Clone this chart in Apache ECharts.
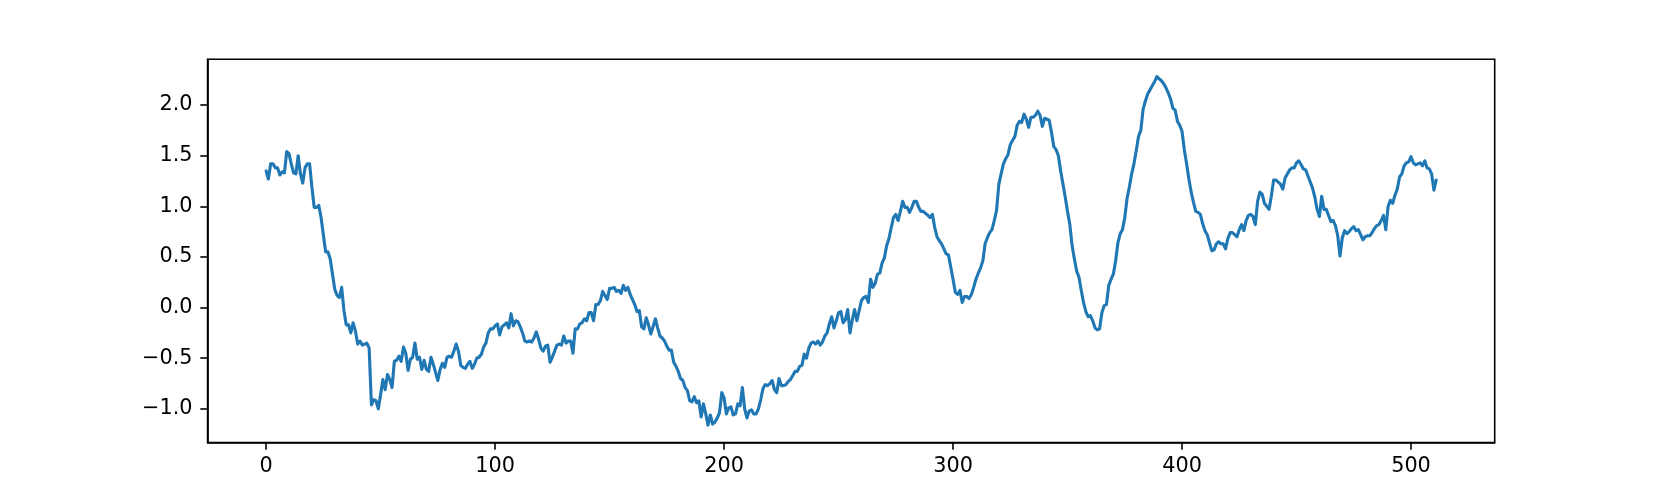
<!DOCTYPE html>
<html>
<head>
<meta charset="utf-8">
<script src="https://cdn.jsdelivr.net/npm/echarts@6/dist/echarts.min.js"></script>
<style>
  html, body { margin: 0; padding: 0; background: #fff; }
  #chart { width: 1661px; height: 498px; }
</style>
</head>
<body>
<div id="chart"></div>
<script>
// 数据
const values = [
  1.35, 1.27, 1.42, 1.42, 1.38, 1.38, 1.31, 1.34, 1.33, 1.54, 1.52, 1.42, 1.33, 1.32, 1.50, 1.32,
  1.23, 1.38, 1.42, 1.42, 1.19, 0.99, 0.99, 1.01, 0.89, 0.72, 0.55, 0.55, 0.48, 0.33, 0.18, 0.12,
  0.10, 0.20, -0.03, -0.17, -0.17, -0.25, -0.15, -0.23, -0.36, -0.33, -0.37, -0.36, -0.35, -0.40, -0.96, -0.91,
  -0.92, -1.00, -0.86, -0.71, -0.81, -0.66, -0.71, -0.79, -0.53, -0.52, -0.48, -0.53, -0.39, -0.45, -0.62, -0.51,
  -0.49, -0.35, -0.51, -0.49, -0.61, -0.52, -0.61, -0.63, -0.49, -0.56, -0.64, -0.72, -0.61, -0.55, -0.59, -0.49,
  -0.48, -0.49, -0.43, -0.36, -0.43, -0.57, -0.59, -0.60, -0.56, -0.53, -0.60, -0.56, -0.50, -0.49, -0.46, -0.39,
  -0.35, -0.25, -0.21, -0.21, -0.18, -0.16, -0.27, -0.19, -0.17, -0.15, -0.20, -0.06, -0.18, -0.13, -0.14, -0.19,
  -0.25, -0.33, -0.34, -0.33, -0.34, -0.30, -0.24, -0.31, -0.40, -0.43, -0.38, -0.37, -0.54, -0.49, -0.43, -0.37,
  -0.36, -0.37, -0.28, -0.35, -0.33, -0.33, -0.45, -0.21, -0.21, -0.16, -0.15, -0.11, -0.13, -0.05, -0.05, -0.13,
  0.03, 0.03, 0.07, 0.16, 0.12, 0.08, 0.19, 0.19, 0.20, 0.16, 0.17, 0.14, 0.22, 0.17, 0.20, 0.13,
  0.08, 0.03, -0.04, -0.03, -0.19, -0.21, -0.10, -0.17, -0.26, -0.19, -0.11, -0.20, -0.28, -0.30, -0.33, -0.38,
  -0.42, -0.42, -0.54, -0.58, -0.63, -0.70, -0.72, -0.79, -0.82, -0.92, -0.93, -0.88, -0.94, -0.92, -1.08, -0.95,
  -1.05, -1.16, -1.06, -1.15, -1.13, -1.09, -1.04, -0.84, -0.89, -1.05, -0.99, -0.98, -1.06, -1.05, -0.95, -0.97,
  -0.79, -1.00, -1.09, -1.02, -1.01, -1.05, -1.05, -1.00, -0.91, -0.80, -0.76, -0.77, -0.75, -0.72, -0.81, -0.84,
  -0.70, -0.77, -0.77, -0.76, -0.73, -0.71, -0.67, -0.63, -0.63, -0.58, -0.57, -0.46, -0.50, -0.40, -0.35, -0.34,
  -0.36, -0.33, -0.37, -0.34, -0.28, -0.25, -0.16, -0.09, -0.20, -0.13, -0.05, -0.04, -0.15, -0.12, -0.02, -0.25,
  -0.12, -0.02, -0.13, -0.03, 0.07, 0.10, 0.11, 0.05, 0.28, 0.20, 0.24, 0.33, 0.34, 0.44, 0.49, 0.61,
  0.68, 0.79, 0.89, 0.92, 0.86, 0.95, 1.05, 0.99, 0.99, 0.94, 0.99, 1.05, 1.05, 0.99, 0.95, 0.95,
  0.93, 0.91, 0.89, 0.92, 0.79, 0.70, 0.66, 0.63, 0.58, 0.53, 0.52, 0.40, 0.28, 0.15, 0.13, 0.17,
  0.05, 0.11, 0.11, 0.09, 0.13, 0.20, 0.28, 0.34, 0.39, 0.46, 0.63, 0.69, 0.74, 0.77, 0.86, 0.96,
  1.22, 1.32, 1.42, 1.47, 1.51, 1.61, 1.65, 1.69, 1.80, 1.84, 1.83, 1.91, 1.86, 1.78, 1.88, 1.88,
  1.90, 1.94, 1.90, 1.79, 1.87, 1.86, 1.85, 1.73, 1.59, 1.56, 1.50, 1.35, 1.22, 1.09, 0.95, 0.82,
  0.61, 0.48, 0.36, 0.30, 0.17, 0.05, -0.04, -0.09, -0.08, -0.13, -0.20, -0.22, -0.21, -0.05, 0.02, 0.03,
  0.22, 0.28, 0.33, 0.46, 0.64, 0.73, 0.77, 0.89, 1.08, 1.19, 1.32, 1.42, 1.55, 1.69, 1.75, 1.96,
  2.04, 2.11, 2.15, 2.19, 2.23, 2.28, 2.26, 2.24, 2.21, 2.17, 2.12, 2.06, 1.97, 1.95, 1.84, 1.80,
  1.74, 1.56, 1.42, 1.27, 1.14, 1.04, 0.95, 0.94, 0.92, 0.83, 0.76, 0.72, 0.64, 0.56, 0.57, 0.63,
  0.65, 0.63, 0.63, 0.58, 0.68, 0.74, 0.74, 0.72, 0.70, 0.77, 0.82, 0.76, 0.86, 0.91, 0.92, 0.90,
  0.82, 1.05, 1.14, 1.12, 1.03, 1.00, 0.97, 1.10, 1.26, 1.26, 1.24, 1.22, 1.17, 1.28, 1.32, 1.36,
  1.38, 1.38, 1.43, 1.45, 1.41, 1.37, 1.36, 1.30, 1.24, 1.18, 1.09, 0.97, 0.90, 1.10, 0.97, 0.97,
  0.91, 0.85, 0.86, 0.81, 0.71, 0.51, 0.69, 0.76, 0.73, 0.75, 0.78, 0.80, 0.76, 0.77, 0.72, 0.67,
  0.70, 0.71, 0.71, 0.74, 0.78, 0.81, 0.82, 0.86, 0.91, 0.77, 1.00, 1.06, 1.03, 1.11, 1.17, 1.29,
  1.32, 1.40, 1.43, 1.44, 1.49, 1.43, 1.41, 1.42, 1.43, 1.40, 1.45, 1.38, 1.37, 1.32, 1.16, 1.26
];
// 刻度
const xTicks = [0, 100, 200, 300, 400, 500];
const yTicks = [-1.0, -0.5, 0.0, 0.5, 1.0, 1.5, 2.0];

const chart = echarts.init(document.getElementById("chart"), null, { renderer: "canvas" });

// 轴范围: 数据范围两侧各留 5%
const n = values.length;
const xPad = (n - 1) * 0.05;
const yLo = Math.min(...values);
const yHi = Math.max(...values);
const yPad = (yHi - yLo) * 0.05;

const fmt = (v) => v.toFixed(1).replace("-", "\u2212");
const labelStyle = {
  color: "#000",
  fontFamily: "DejaVu Sans",
  fontSize: 20.8,
};
const axisLine = {
  show: true,
  onZero: false,
  lineStyle: { color: "#000", width: 1.6 },
};

chart.setOption({
  animation: false,
  grid: {
    left: 207.6,
    right: 166.3,
    top: 59.3,
    bottom: 55.5,
    show: true,
    borderColor: "#000",
    borderWidth: 1.6,
    containLabel: false,
  },
  xAxis: {
    type: "value",
    min: -xPad,
    max: n - 1 + xPad,
    splitLine: { show: false },
    axisLine: axisLine,
    axisTick: {
      show: true,
      inside: false,
      length: 7.3,
      customValues: xTicks,
      lineStyle: { color: "#000", width: 1.6 },
    },
    axisLabel: {
      ...labelStyle,
      margin: 14,
      customValues: xTicks,
      formatter: (v) => String(v),
    },
  },
  yAxis: {
    type: "value",
    min: yLo - yPad,
    max: yHi + yPad,
    splitLine: { show: false },
    axisLine: axisLine,
    axisTick: {
      show: true,
      inside: false,
      length: 7.3,
      customValues: yTicks,
      lineStyle: { color: "#000", width: 1.6 },
    },
    axisLabel: {
      ...labelStyle,
      margin: 15,
      customValues: yTicks,
      formatter: fmt,
    },
  },
  series: [
    {
      type: "line",
      data: values.map((v, i) => [i, v]),
      showSymbol: false,
      symbol: "none",
      lineStyle: { color: "#1f77b4", width: 3.1, join: "round", cap: "round" },
    },
  ],
});
</script>
</body>
</html>
